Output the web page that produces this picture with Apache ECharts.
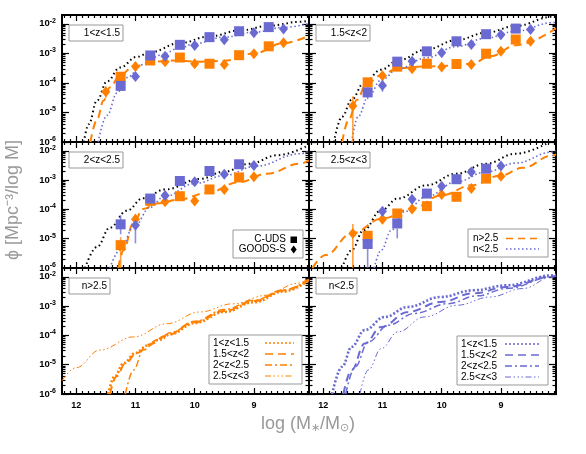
<!DOCTYPE html>
<html>
<head>
<meta charset="utf-8">
<script src="https://cdn.jsdelivr.net/npm/echarts@6/dist/echarts.min.js"></script>
<style>
html, body { margin: 0; padding: 0; background: #fff; }
#chart { width: 586px; height: 454px; }
</style>
</head>
<body>
<div id="chart"></div>
<script>
// ---- axis ticks ----
var xTicks = [12, 11, 10, 9];
var yTicks = [-6, -5, -4, -3, -2];
var yTickExp = ['-6', '-5', '-4', '-3', '-2'];
var panelLabels = ['1<z<1.5', '1.5<z<2', '2<z<2.5', '2.5<z<3', 'n>2.5', 'n<2.5'];
var zLabels = ['1<z<1.5', '1.5<z<2', '2<z<2.5', '2.5<z<3'];

// ---- data: [log M, log phi] ; errors [log M, low, high] ----
// 1<z<1.5
var cudsLowN1 = [[11.25,-4.10],[10.75,-3.07],[10.25,-2.71],[9.75,-2.45],[9.25,-2.25],[8.75,-2.11]];
var goodsLowN1 = [[11.0,-3.78],[10.5,-3.10],[10.0,-2.73],[9.5,-2.54],[9.0,-2.30],[8.5,-2.17]];
var cudsHighN1 = [[11.25,-3.79],[10.75,-3.24],[10.25,-3.14],[9.75,-3.35],[9.25,-3.06],[8.75,-2.76]];
var goodsHighN1 = [[11.5,-4.30],[11.0,-3.44],[10.5,-3.28],[10.0,-3.35],[9.5,-3.38],[9.0,-3.01],[8.5,-2.64]];
var fitAll1 = [[11.87,-6],[11.79,-5.4],[11.65,-4.6],[11.48,-3.95],[11.26,-3.48],[10.98,-3.12],[10.75,-2.96],[10.25,-2.65],[9.74,-2.42],[9.23,-2.22],[8.73,-2.06],[8.22,-1.93],[8.07,-1.89]];
var fitLowN1 = [[11.63,-6],[11.48,-5.1],[11.31,-4.34],[11.15,-3.82],[10.87,-3.38],[10.58,-3.06],[10.25,-2.82],[10.0,-2.67],[9.5,-2.45],[9.0,-2.28],[8.5,-2.12],[8.07,-1.99]];
var fitHighN1 = [[11.76,-6],[11.65,-5.25],[11.54,-4.6],[11.43,-4.15],[11.26,-3.74],[11.04,-3.46],[10.75,-3.29],[10.4,-3.24],[9.9,-3.28],[9.5,-3.25],[9.0,-3.0],[8.5,-2.65],[8.07,-2.4]];
var errHighN1 = [[11.5,-4.5,-4.12],[11.25,-3.95,-3.65]];
var errLowN1 = [[11.25,-4.25,-4.0]];

// 1.5<z<2
var cudsLowN2 = [[11.25,-4.32],[10.75,-3.28],[10.25,-2.93],[9.75,-2.59],[9.25,-2.35],[8.75,-2.16]];
var goodsLowN2 = [[11.0,-4.09],[10.5,-3.27],[10.0,-2.98],[9.5,-2.70],[9.0,-2.37],[8.5,-2.19]];
var cudsHighN2 = [[11.25,-3.98],[10.75,-3.45],[10.25,-3.35],[9.75,-3.36],[9.25,-3.01],[8.75,-2.53]];
var goodsHighN2 = [[11.5,-4.78],[11.0,-3.76],[10.5,-3.52],[10.0,-3.46],[9.5,-3.38],[9.0,-2.93],[8.5,-2.59]];
var fitAll2 = [[11.82,-6],[11.68,-5.14],[11.52,-4.57],[11.32,-4.02],[11.02,-3.55],[10.74,-3.24],[10.26,-2.87],[9.75,-2.55],[9.25,-2.3],[8.75,-2.07],[8.13,-1.76],[8.07,-1.73]];
var fitLowN2 = [[11.52,-6],[11.41,-5.14],[11.24,-4.46],[11.02,-3.9],[10.74,-3.53],[10.26,-3.15],[9.75,-2.77],[9.25,-2.48],[8.75,-2.25],[8.13,-1.96],[8.07,-1.93]];
var fitHighN2 = [[11.68,-6],[11.57,-5.25],[11.43,-4.57],[11.27,-4.02],[11.0,-3.72],[10.74,-3.5],[10.29,-3.44],[9.85,-3.42],[9.5,-3.35],[9.18,-3.1],[8.74,-2.72],[8.07,-2.15]];
var errHighN2 = [[11.5,-6,-4.45]];
var errLowN2 = [[11.25,-4.55,-4.1],[11.0,-4.3,-3.9]];

// 2<z<2.5
var cudsLowN3 = [[11.25,-4.51],[10.75,-3.63],[10.25,-3.03],[9.75,-2.69],[9.25,-2.46]];
var goodsLowN3 = [[11.0,-4.54],[10.5,-3.53],[10.0,-3.06],[9.5,-2.80],[9.0,-2.50]];
var cudsHighN3 = [[11.25,-5.22],[10.75,-3.71],[10.25,-3.55],[9.75,-3.32],[9.25,-2.91]];
var goodsHighN3 = [[11.0,-4.34],[10.5,-3.74],[10.0,-3.71],[9.5,-3.32],[9.0,-2.89]];
var fitAll3 = [[11.85,-6],[11.65,-5.28],[11.43,-4.62],[11.15,-4.05],[10.87,-3.62],[10.5,-3.32],[9.91,-2.96],[9.5,-2.71],[9.07,-2.44],[8.6,-2.15],[8.07,-1.8]];
var fitLowN3 = [[11.43,-6],[11.26,-5.39],[11.03,-4.6],[10.75,-3.93],[10.53,-3.58],[10.0,-3.12],[9.49,-2.84],[8.98,-2.53],[8.22,-2.1],[8.07,-2.02]];
var fitHighN3 = [[11.29,-6],[11.2,-5.39],[11.04,-4.48],[10.87,-3.99],[10.64,-3.8],[10.25,-3.66],[9.8,-3.44],[9.23,-3.06],[8.78,-2.78],[8.22,-2.44],[8.07,-2.33]];
var errHighN3 = [[11.25,-6,-4.95],[11.0,-4.5,-4.15]];
var errLowN3 = [[11.25,-4.85,-4.2],[11.0,-5.16,-4.31]];

// 2.5<z<3
var cudsLowN4 = [[11.25,-5.18],[10.75,-4.48],[10.25,-3.46],[9.75,-2.97],[9.25,-2.61]];
var goodsLowN4 = [[11.0,-4.06],[10.5,-3.65],[10.0,-3.21],[9.5,-2.72],[9.0,-2.52]];
var cudsHighN4 = [[11.25,-4.90],[10.75,-4.14],[10.25,-3.89],[9.75,-3.57],[9.25,-2.95]];
var goodsHighN4 = [[11.5,-4.82],[11.0,-4.34],[10.5,-3.99],[10.0,-3.49],[9.5,-3.29],[9.0,-2.87]];
var fitAll4 = [[11.68,-6],[11.52,-5.39],[11.32,-4.71],[11.02,-4.03],[10.74,-3.63],[10.26,-3.18],[9.75,-2.78],[9.25,-2.44],[8.75,-2.1],[8.18,-1.7]];
var fitLowN4 = [[11.14,-6],[11.02,-5.39],[10.85,-4.71],[10.63,-4.08],[10.26,-3.57],[9.75,-3.06],[9.25,-2.72],[8.75,-2.42],[8.13,-2.04],[8.07,-2.0]];
var fitHighN4 = [[12.18,-6],[11.96,-5.56],[11.52,-4.82],[11.0,-4.31],[10.5,-3.97],[10.0,-3.52],[9.5,-3.18],[9.0,-2.84],[8.63,-2.58],[8.13,-2.16],[8.07,-2.12]];
var errHighN4 = [[11.5,-6,-4.5],[11.0,-4.5,-4.1]];
var errLowN4 = [[11.25,-6,-5.0],[10.75,-4.99,-4.65]];

// n>2.5 fits, all redshifts
var highNFitZ1 = [[11.46,-6],[11.35,-5.4],[11.2,-4.95],[11.0,-4.6],[10.8,-4.35],[10.6,-4.15],[10.4,-3.95],[10.0,-3.58],[9.5,-3.2],[9.0,-2.87],[8.5,-2.5],[8.07,-2.12]];
var highNFitZ2 = [[11.43,-6],[11.32,-5.4],[11.17,-4.95],[10.98,-4.6],[10.75,-4.3],[10.5,-4.02],[10.0,-3.55],[9.5,-3.17],[9.0,-2.83],[8.5,-2.47],[8.07,-2.1]];
var highNFitZ3 = [[11.17,-6],[11.03,-5.18],[10.87,-4.5],[10.64,-4.16],[10.4,-3.9],[10.0,-3.52],[9.5,-3.12],[9.0,-2.8],[8.5,-2.45],[8.07,-2.09]];
var highNFitZ4 = [[12.24,-5.55],[12.0,-5.1],[11.6,-4.5],[11.03,-4.05],[10.47,-3.6],[9.91,-3.2],[9.35,-2.92],[8.78,-2.63],[8.28,-2.23],[8.07,-2.05]];
// n<2.5 fits, all redshifts
var lowNFitZ1 = [[11.85,-6],[11.68,-5.07],[11.52,-4.39],[11.3,-3.82],[10.96,-3.37],[10.57,-3.03],[10.02,-2.69],[9.46,-2.46],[8.9,-2.29],[8.13,-1.95],[8.07,-1.92]];
var lowNFitZ2 = [[11.66,-6],[11.52,-5.18],[11.3,-4.28],[11.02,-3.71],[10.57,-3.2],[10.02,-2.86],[9.46,-2.56],[8.9,-2.35],[8.13,-1.99],[8.07,-1.96]];
var lowNFitZ3 = [[11.62,-6],[11.46,-5.07],[11.24,-4.22],[10.9,-3.65],[10.46,-3.25],[9.9,-2.92],[9.4,-2.65],[8.9,-2.4],[8.13,-2.0],[8.07,-1.97]];
var lowNFitZ4 = [[11.38,-6],[11.24,-5.18],[11.02,-4.45],[10.74,-3.88],[10.29,-3.37],[9.74,-2.97],[9.18,-2.69],[8.63,-2.4],[8.13,-2.0],[8.07,-1.97]];

// ---- layout / style ----
var X_MIN = 8.07, X_MAX = 12.24, Y_MIN = -6, Y_MAX = -1.7;
var ORANGE = '#ff8000', BLUE = '#6a6ad2';
var boxes = [[62,15,247,127],[309,15,247,127],[62,142,247,126],[309,142,247,126],[62,268,247,126],[309,268,247,126]];

var xMinorTicks = [];
for (var i = 81; i <= 122; i++) { if (i % 10 !== 0) xMinorTicks.push(i / 10); }
var yMinorTicks = [];
for (var n = -6; n <= -2; n++) {
	for (var k = 2; k <= 9; k++) {
		var v = n + Math.log10(k);
		if (v < Y_MAX) yMinorTicks.push(v);
	}
}

var tickStyle = { color: '#000', width: 1.2 };
var xAxes = [], yAxes = [], grids = [], series = [], graphics = [];

function xAx(g, pos, ticks, len, showLabel) {
	return {
		gridIndex: g, type: 'value', min: X_MIN, max: X_MAX, inverse: true, position: pos,
		axisLine: { show: false }, splitLine: { show: false },
		axisTick: { inside: true, length: len, customValues: ticks, lineStyle: tickStyle },
		axisLabel: { show: showLabel, customValues: xTicks, color: '#000', fontWeight: 'bold',
			fontSize: 9, fontFamily: 'Liberation Sans', margin: 7 }
	};
}
function yAx(g, pos, ticks, len, showLabel) {
	return {
		gridIndex: g, type: 'value', min: Y_MIN, max: Y_MAX, position: pos,
		axisLine: { show: false }, splitLine: { show: false },
		axisTick: { inside: true, length: len, customValues: ticks, lineStyle: tickStyle },
		axisLabel: { show: showLabel, customValues: yTicks, color: '#000', margin: 6,
			formatter: function (val) { return '{b|10}{s|' + yTickExp[yTicks.indexOf(Math.round(val))] + '}'; },
			rich: {
				b: { fontSize: 9.5, fontWeight: 'bold', fontFamily: 'Liberation Sans', color: '#000' },
				s: { fontSize: 7, fontWeight: 'bold', fontFamily: 'Liberation Sans', color: '#000', padding: [0, 0, 6, 0] }
			} }
	};
}

boxes.forEach(function (b, g) {
	grids.push({ left: b[0], top: b[1], width: b[2], height: b[3], show: true,
		borderColor: '#000', borderWidth: 2, backgroundColor: 'transparent' });
	var bottomRow = g >= 4, leftCol = g % 2 === 0;
	xAxes.push(xAx(g, 'bottom', xTicks, 6, bottomRow));
	xAxes.push(xAx(g, 'bottom', xMinorTicks, 3, false));
	xAxes.push(xAx(g, 'top', xTicks, 6, false));
	xAxes.push(xAx(g, 'top', xMinorTicks, 3, false));
	yAxes.push(yAx(g, 'left', yTicks, 7, leftCol));
	yAxes.push(yAx(g, 'left', yMinorTicks, 3.5, false));
	yAxes.push(yAx(g, 'right', yTicks, 7, false));
	yAxes.push(yAx(g, 'right', yMinorTicks, 3.5, false));
});

function lineSeries(g, data, color, width, dash) {
	return { type: 'line', xAxisIndex: 4 * g, yAxisIndex: 4 * g, data: data, showSymbol: false,
		smooth: 0.4, smoothMonotone: 'x', clip: true, silent: true,
		lineStyle: { color: color, width: width, type: dash }, z: 2 };
}
function pointSeries(g, data, color, symbol, size) {
	return { type: 'scatter', xAxisIndex: 4 * g, yAxisIndex: 4 * g, data: data,
		symbol: symbol, symbolSize: size, itemStyle: { color: color, opacity: 1 }, z: 4 };
}
function errSeries(g, data, color) {
	return { type: 'custom', xAxisIndex: 4 * g, yAxisIndex: 4 * g, data: data, clip: true, z: 3,
		encode: { x: 0, y: [1, 2] },
		renderItem: function (params, api) {
			var p1 = api.coord([api.value(0), api.value(1)]);
			var p2 = api.coord([api.value(0), api.value(2)]);
			return { type: 'line', shape: { x1: p1[0], y1: p1[1], x2: p2[0], y2: p2[1] },
				style: { stroke: color, lineWidth: 1.6, opacity: 0.75 } };
		} };
}

var dotBlack = [1.5, 3], dashOrange = [8, 5], dotBlue = [1.5, 2.5];
var zPanels = [
	[cudsLowN1, goodsLowN1, cudsHighN1, goodsHighN1, fitAll1, fitLowN1, fitHighN1, errHighN1, errLowN1],
	[cudsLowN2, goodsLowN2, cudsHighN2, goodsHighN2, fitAll2, fitLowN2, fitHighN2, errHighN2, errLowN2],
	[cudsLowN3, goodsLowN3, cudsHighN3, goodsHighN3, fitAll3, fitLowN3, fitHighN3, errHighN3, errLowN3],
	[cudsLowN4, goodsLowN4, cudsHighN4, goodsHighN4, fitAll4, fitLowN4, fitHighN4, errHighN4, errLowN4]
];
zPanels.forEach(function (p, g) {
	series.push(lineSeries(g, p[4], '#000', 2, dotBlack));
	series.push(lineSeries(g, p[6], ORANGE, 2, dashOrange));
	series.push(lineSeries(g, p[5], BLUE, 1.6, dotBlue));
	series.push(errSeries(g, p[7], ORANGE));
	series.push(errSeries(g, p[8], BLUE));
	series.push(pointSeries(g, p[2], ORANGE, 'rect', 10));
	series.push(pointSeries(g, p[3], ORANGE, 'diamond', [9, 11]));
	series.push(pointSeries(g, p[0], BLUE, 'rect', 10));
	series.push(pointSeries(g, p[1], BLUE, 'diamond', [9, 11]));
});

var fitDash = [[2, 2], [8, 5], [7, 3, 2, 3], [6, 2.5, 1.5, 2.5, 1.5, 2.5, 1.5, 2.5]];
var fitWidth = [2.6, 2, 1.5, 1];
[highNFitZ1, highNFitZ2, highNFitZ3, highNFitZ4].forEach(function (d, i) {
	series.push(lineSeries(4, d, ORANGE, fitWidth[i], fitDash[i]));
});
[lowNFitZ1, lowNFitZ2, lowNFitZ3, lowNFitZ4].forEach(function (d, i) {
	series.push(lineSeries(5, d, BLUE, fitWidth[i], fitDash[i]));
});

// ---- panel labels ----
var txtFont = { fontSize: 10, fontFamily: 'Liberation Sans', fill: '#000' };
boxes.forEach(function (b, g) {
	var w = g < 4 ? 54 : 41;
	graphics.push({ type: 'rect', z: 100, shape: { x: b[0] + 7, y: b[1] + 10, width: w, height: 16 },
		style: { fill: '#fff', stroke: '#999', lineWidth: 1 } });
	graphics.push({ type: 'text', z: 101, x: b[0] + 7 + w - 3, y: b[1] + 18,
		style: Object.assign({ text: panelLabels[g], align: 'right', verticalAlign: 'middle' }, txtFont) });
});

// survey legend (panel 3)
graphics.push({ type: 'rect', z: 100, shape: { x: 233, y: 230, width: 70, height: 28 },
	style: { fill: '#fff', stroke: '#999', lineWidth: 1 } });
graphics.push({ type: 'text', z: 101, x: 286, y: 239.5,
	style: Object.assign({ text: 'C-UDS', align: 'right', verticalAlign: 'middle' }, txtFont) });
graphics.push({ type: 'text', z: 101, x: 286, y: 249.5,
	style: Object.assign({ text: 'GOODS-S', align: 'right', verticalAlign: 'middle' }, txtFont) });
graphics.push({ type: 'rect', z: 101, shape: { x: 290.5, y: 236.5, width: 6.5, height: 6.5 }, style: { fill: '#000' } });
graphics.push({ type: 'polygon', z: 101, shape: { points: [[293.7, 245.5], [296.7, 249.5], [293.7, 253.5], [290.7, 249.5]] }, style: { fill: '#000' } });

// morphology legend (panel 4)
graphics.push({ type: 'rect', z: 100, shape: { x: 468, y: 229, width: 80, height: 28 },
	style: { fill: '#fff', stroke: '#999', lineWidth: 1 } });
[['n>2.5', ORANGE, 1.3, [7, 5]], ['n<2.5', BLUE, 1.3, [1.5, 2.5]]].forEach(function (r, i) {
	var y = 238.5 + i * 10.5;
	graphics.push({ type: 'text', z: 101, x: 473, y: y,
		style: Object.assign({ text: r[0], align: 'left', verticalAlign: 'middle' }, txtFont) });
	graphics.push({ type: 'line', z: 101, shape: { x1: 506, y1: y, x2: 539, y2: y },
		style: { stroke: r[1], lineWidth: r[2], lineDash: r[3] } });
});

// redshift legends (panels 5 and 6)
[[209, 335, 93, 213, 265, 294, ORANGE], [457, 336, 91, 461, 505, 539, BLUE]].forEach(function (L) {
	graphics.push({ type: 'rect', z: 100, shape: { x: L[0], y: L[1], width: L[2], height: 49 },
		style: { fill: '#fff', stroke: '#999', lineWidth: 1 } });
	zLabels.forEach(function (lab, i) {
		var y = L[1] + 8 + i * 11;
		graphics.push({ type: 'text', z: 101, x: L[3], y: y,
			style: Object.assign({ text: lab, align: 'left', verticalAlign: 'middle' }, txtFont) });
		graphics.push({ type: 'line', z: 101, shape: { x1: L[4], y1: y, x2: L[5], y2: y },
			style: { stroke: L[6], lineWidth: Math.min(fitWidth[i], 1.5), lineDash: fitDash[i] } });
	});
});

// axis titles
graphics.push({ type: 'text', x: 13, y: 200, rotation: Math.PI / 2,
	style: { text: 'ϕ [Mpc⁻³/log M]', align: 'center', verticalAlign: 'middle',
		fontSize: 18, fontFamily: 'Liberation Sans', fill: '#999' } });
graphics.push({ type: 'text', x: 308, y: 424,
	style: { text: 'log (M{s|∗}/M{s|⊙})', align: 'center', verticalAlign: 'middle',
		fontSize: 18, fontFamily: 'Liberation Sans', fill: '#999',
		rich: { s: { fontSize: 11, fill: '#999', padding: [8, 0, 0, 0] } } } });

var myChart = echarts.init(document.getElementById('chart'));
myChart.setOption({
	animation: false,
	backgroundColor: '#fff',
	grid: grids,
	xAxis: xAxes,
	yAxis: yAxes,
	series: series,
	graphic: graphics
});
window.addEventListener('resize', function () {
	myChart.resize();
});
</script>
</body>
</html>
